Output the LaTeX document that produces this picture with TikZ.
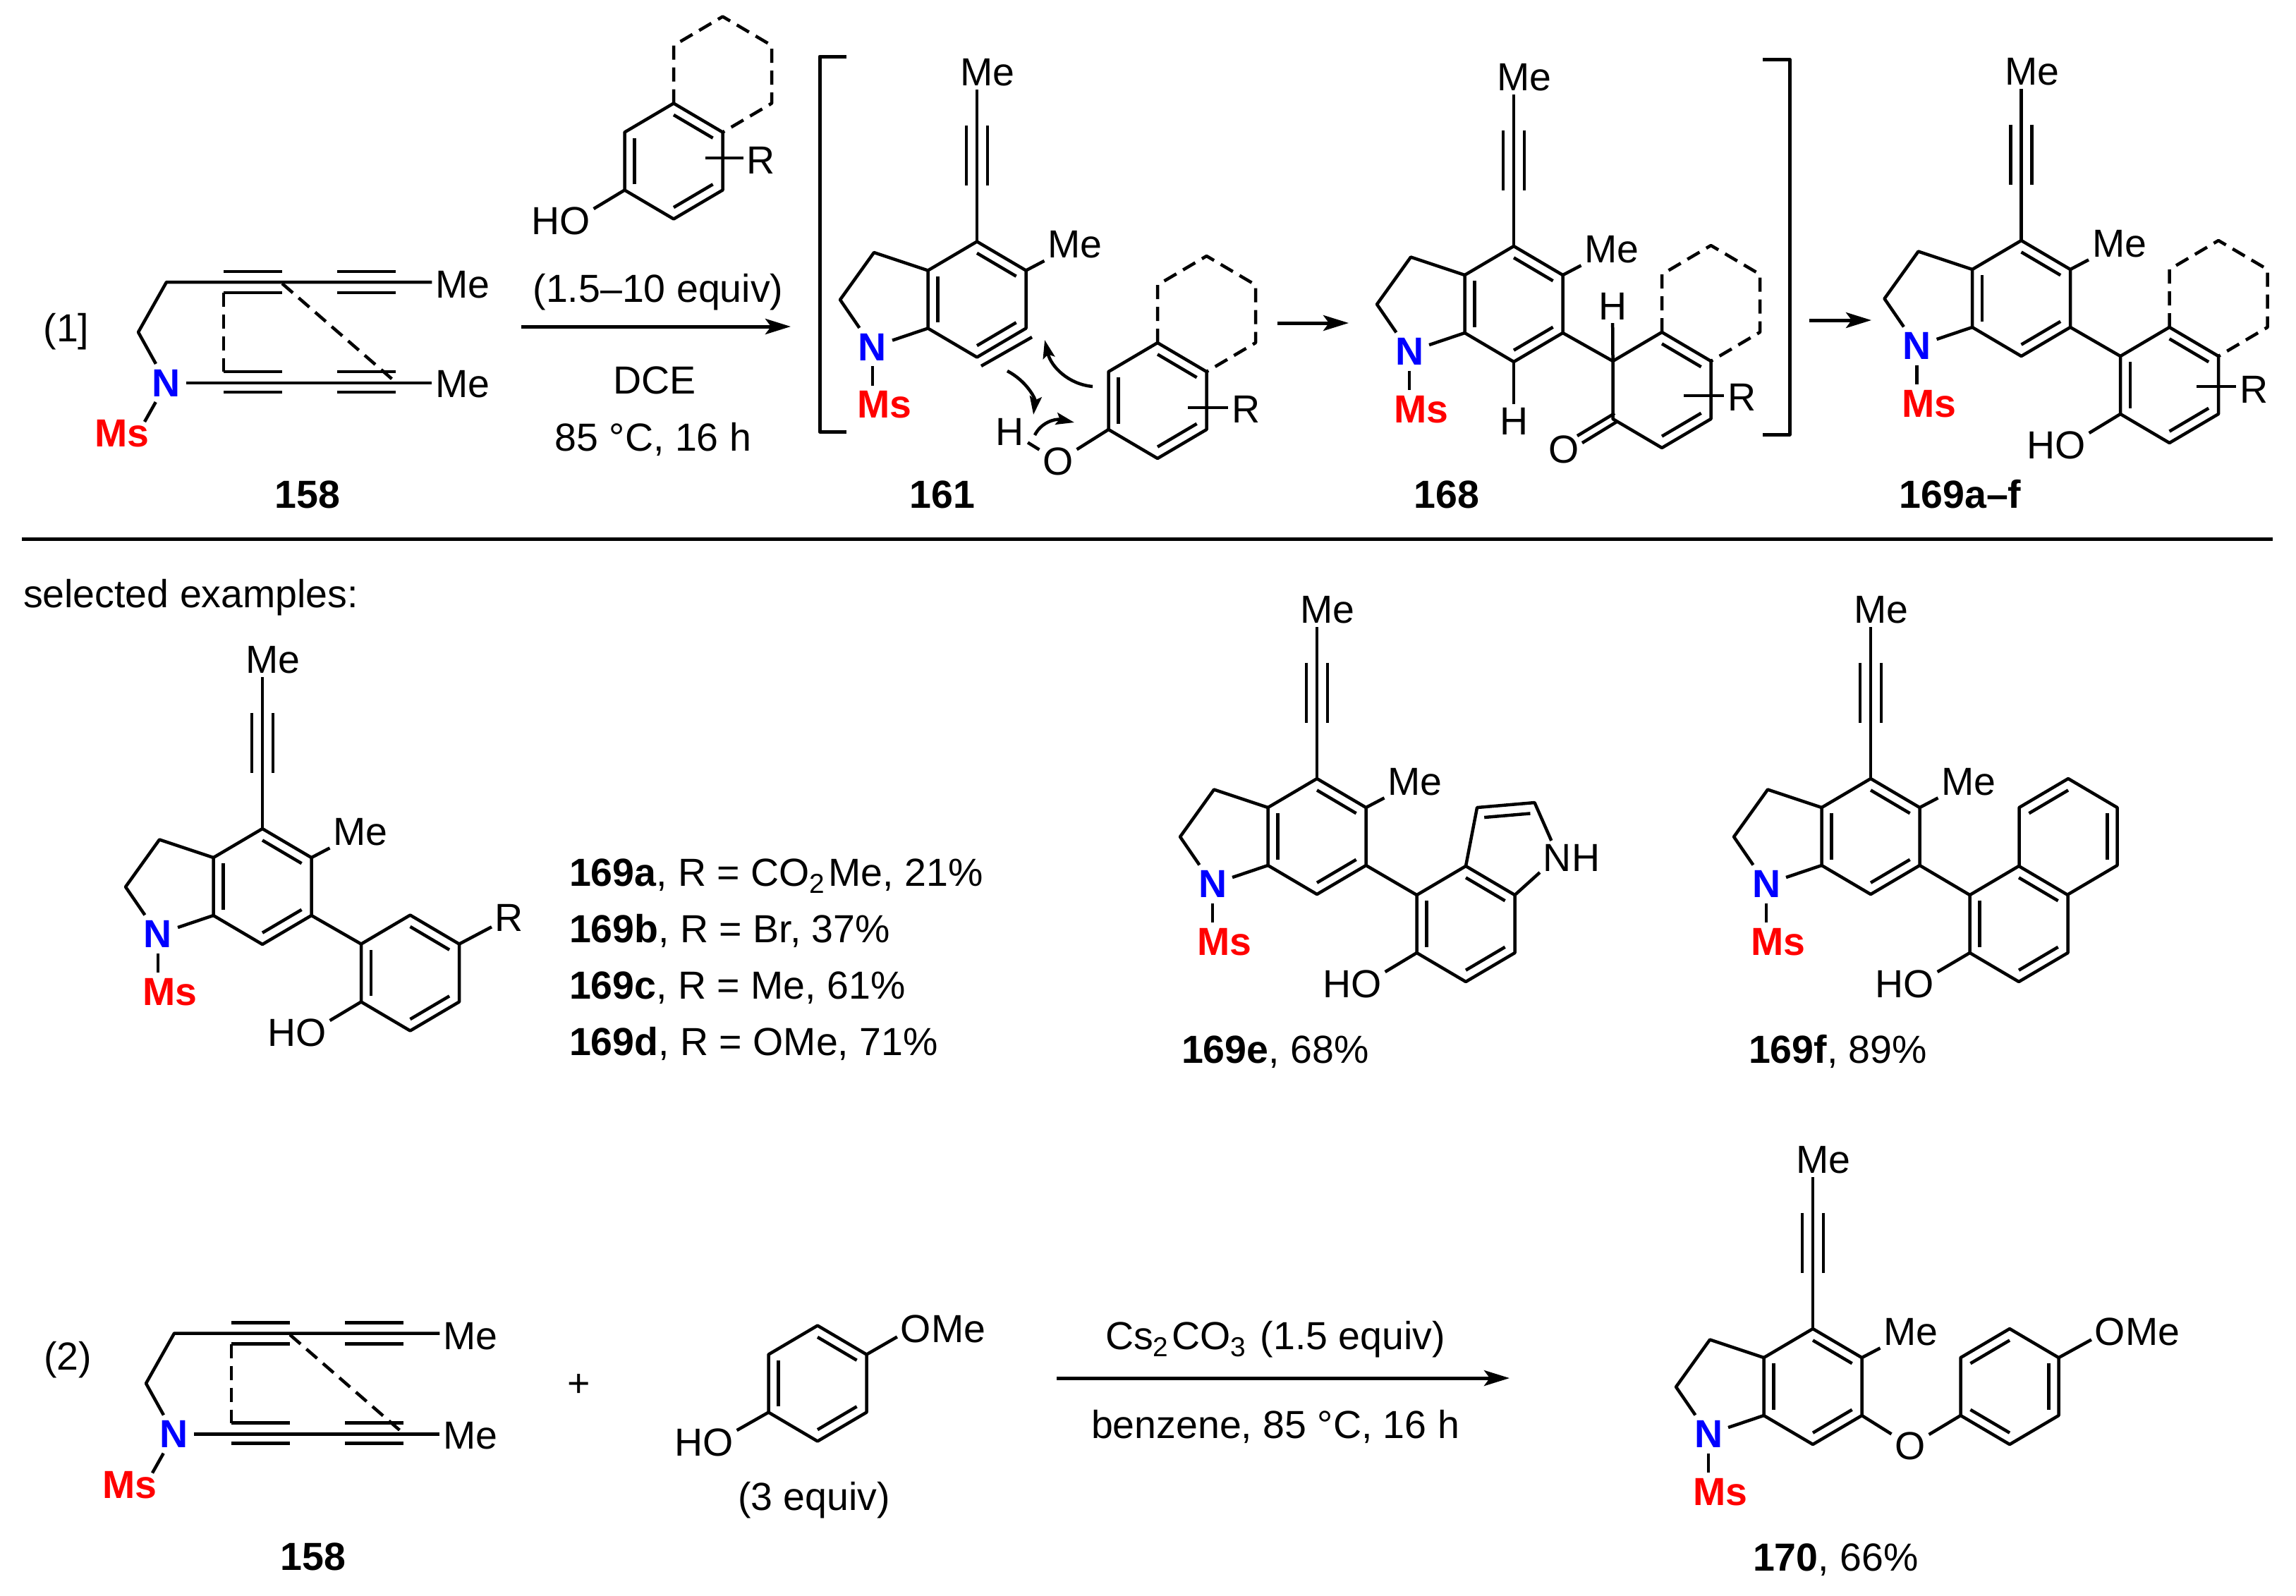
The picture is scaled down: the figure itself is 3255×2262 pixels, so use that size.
\documentclass[tikz,border=0pt]{standalone}
\usepackage{fontspec}
\setmainfont{Liberation Sans}
\usetikzlibrary{arrows.meta, calc}
\newcommand{\chemfont}{\fontsize{5.55}{6.6}\selectfont}
\tikzstyle{bond} = [line width=0.45pt, line join=round]
\tikzstyle{dashbond} = [bond, dash pattern=on 2pt off 1.1pt]
\tikzstyle{rxn} = [line width=0.5pt, -{Stealth[length=3.6pt,width=2.2pt,inset=0.8pt]}]
\tikzstyle{curl} = [line width=0.45pt, -{Stealth[length=2.6pt,width=1.7pt,inset=0.5pt]}]
\tikzstyle{atom} = [font=\chemfont, inner sep=0.5pt, outer sep=0pt]
\tikzstyle{nit} = [atom, font=\chemfont\bfseries, text=blue, inner sep=0.8pt]
\tikzstyle{ms} = [atom, font=\chemfont\bfseries, text=red, inner sep=0.8pt]
\tikzstyle{lab} = [atom, font=\chemfont\bfseries, anchor=base]
\tikzstyle{note} = [atom, anchor=base]
\tikzstyle{listing} = [atom, anchor=base west]
% six ring corners, clockwise from the top
\newcommand{\benzring}[3]{
  \path (#2,#3) coordinate (#1o) ++(0,-82) coordinate (#1a) ++(69.5,41) coordinate (#1b)
    ++(0,82) coordinate (#1c) ++(-69.5,41) coordinate (#1d) ++(-69.5,-41) coordinate (#1e)
    ++(0,-82) coordinate (#1f);
}
\newcommand{\dbl}[3]{\draw[bond] ($(#1)!.2!(#3)$) -- ($(#2)!.2!(#3)$);}
\newcommand{\phenring}[3]{
  \benzring{#1}{#2}{#3}
  \draw[bond] (#1a) -- (#1b) -- (#1c) -- (#1d) -- (#1e) -- (#1f) -- cycle;
  \dbl{#1a}{#1b}{#1o} \dbl{#1c}{#1d}{#1o} \dbl{#1e}{#1f}{#1o}
}
\newcommand{\dashring}[1]{
  \draw[dashbond] (#1a) -- ++(0,-82) -- ++(69.5,-41) -- ++(69.5,41) -- ++(0,82) -- (#1b);
}
\newcommand{\rsub}[5]{
  \coordinate (#1Rs) at (#2,#3);
  \node[atom] (#1R) at (#4,#5) {R};
  \draw[bond] (#1Rs) -- (#1Rs -| #1R.west);
}
\newcommand{\indoline}[3]{
  \begin{scope}[shift={(#2,#3)}]
    \benzring{#1}{0}{0}
    \coordinate (#1g) at (-146,-66.5);
    \coordinate (#1h) at (-194,0.5);
    \node[nit] (#1N) at (-148,67.5) {N};
    \node[ms] (#1Ms) at (-131,149.5) {Ms};
    \node[atom] (#1Me) at (15,-321.5) {Me};
    \node[atom] (#1Mex) at (139,-77.5) {Me};
    \draw[bond] (#1a) -- (#1b) -- (#1c) -- (#1d) -- (#1e) -- (#1f) -- cycle;
    \dbl{#1a}{#1b}{#1o} \dbl{#1c}{#1d}{#1o} \dbl{#1e}{#1f}{#1o}
    \draw[bond] (#1f) -- (#1g) -- (#1h) -- (#1N);
    \draw[bond] (#1N) -- (#1e);
    \draw[bond] (#1N.south) -- (#1N.south |- #1Ms.north);
    \draw[bond] (#1b) -- (#1Mex);
    \draw[bond] (#1a) -- (#1a |- #1Me.south);
    \draw[bond] (-15,-246.5) -- (-15,-161.5);
    \draw[bond] (15,-246.5) -- (15,-161.5);
  \end{scope}
}
\newcommand{\diyne}[3]{
  \begin{scope}[shift={(#2,#3)}]
    \node[nit] (#1N) at (236,543) {N};
    \node[ms] (#1Ms) at (173,615) {Ms};
    \node[atom] (#1Mea) at (656,404) {Me};
    \node[atom] (#1Meb) at (656,545) {Me};
    \coordinate (#1p) at (196,471);
    \coordinate (#1q) at (236,400);
    \coordinate (#1s) at (205,598);
    \coordinate (#1u) at (317,415);
    \coordinate (#1v) at (317,527);
    \coordinate (#1w) at (400,402);
    \coordinate (#1x) at (561,542);
    \draw[bond] (#1N) -- (#1p) -- (#1q) -- (#1q -| #1Mea.west);
    \draw[bond] (#1N) -- (#1N -| #1Meb.west);
    \draw[bond] (#1N) -- (#1s);
    \foreach \bx in {317,478} {
      \foreach \by in {385,415,527,556} {
        \draw[bond] (\bx,\by) -- ++(83,0);
      }
    }
    \draw[dashbond] (#1u) -- (#1v);
    \draw[dashbond] (#1w) -- (#1x);
  \end{scope}
}

\begin{document}
\begin{tikzpicture}[x=0.1pt, y=-0.1pt]
\useasboundingbox (0,0) rectangle (3255,2262);

% Equation 1
\node[note] (eqone) at (94,484) {(1]};
\diyne{sma}{0}{0}
\node[lab] (smalab) at (436,720) {158};

\phenring{pha}{955}{228.5}
\dashring{pha}
\node[atom] (phaHO) at (795,313) {HO};
\draw[bond] (phae) -- (phaHO.20);
\rsub{pha}{1000}{224}{1079}{227}
\node[note] (equiva) at (933,428) {(1.5--10 equiv)};
\coordinate (rxnas) at (739,463);
\coordinate (rxnae) at (1121,463);
\draw[rxn] (rxnas) -- (rxnae);
\node[note] (dce) at (928,558) {DCE};
\node[note] (conda) at (926,639) {85 °C, 16 h};

% Left bracket
\draw[bond, line width=0.5pt] (1200,80) -- (1162,80) -- (1162,612) -- (1200,612);

% Intermediate 161
\indoline{ia}{1385}{424.5}
\coordinate (arya) at (1463,478);
\coordinate (aryb) at (1391,519);
\draw[bond] (arya) -- (aryb);
\phenring{ib}{1641}{568}
\dashring{ib}
\rsub{ib}{1684}{578}{1766}{580}
\node[atom] (iaH) at (1432,612) {H};
\node[atom] (iaO) at (1500,654) {O};
\draw[bond] (iaH) -- (iaO);
\draw[bond] (ibe) -- (iaO);
\draw[curl] (1428,526) .. controls (1455,540) and (1468,565) .. (1465,588);
\draw[curl] (1549,548) .. controls (1515,545) and (1490,520) .. (1481,482);
\draw[curl] (1467,617) .. controls (1475,600) and (1495,593) .. (1523,599);
\node[lab] (ialab) at (1336,720) {161};
\coordinate (rxnbs) at (1811,458);
\coordinate (rxnbe) at (1912,458);
\draw[rxn] (rxnbs) -- (rxnbe);

% Intermediate 168
\indoline{ka}{2146}{431}
\node[atom] (kaH) at (2146,597) {H};
\draw[bond] (kad) -- (kaH);
\benzring{kb}{2356}{553}
\dashring{kb}
\draw[bond] (kac) -- (kbf);
\draw[bond] (kbf) -- (kba) -- (kbb) -- (kbc) -- (kbd) -- (kbe) -- cycle;
\dbl{kba}{kbb}{kbo}
\dbl{kbc}{kbd}{kbo}
\node[atom] (kbHt) at (2286,434) {H};
\draw[bond] (kbf) -- (kbHt);
\node[atom] (kbO) at (2217,637) {O};
\coordinate (coas) at (2289,586);
\coordinate (coae) at (2236,618);
\coordinate (cobs) at (2292,598);
\coordinate (cobe) at (2243,628);
\draw[bond] (coas) -- (coae);
\draw[bond] (cobs) -- (cobe);
\rsub{kb}{2387}{561}{2469}{563}
\node[lab] (kalab) at (2051,720) {168};

% Right bracket
\draw[bond, line width=0.5pt] (2499,84) -- (2537,84) -- (2537,616) -- (2499,616);
\coordinate (rxncs) at (2565,454);
\coordinate (rxnce) at (2653,454);
\draw[rxn] (rxncs) -- (rxnce);

% Product 169a-f
\indoline{pa}{2865.5}{423}
\phenring{pb}{3075.5}{546}
\dashring{pb}
\draw[bond] (pac) -- (pbf);
\node[atom] (pbHO) at (2915,631) {HO};
\draw[bond] (pbe) -- (pbHO.20);
\rsub{pb}{3114}{548}{3195}{552}
\node[lab] (palab) at (2779,720) {169a--f};

% Divider
\coordinate (divs) at (31,764);
\coordinate (dive) at (3222,764);
\draw[bond, line width=0.5pt] (divs) -- (dive);

% Selected examples
\node[listing] (selex) at (28,861) {selected examples:};
\indoline{qa}{372}{1257}
\phenring{qb}{581.5}{1379.5}
\draw[bond] (qac) -- (qbf);
\node[atom] (qbR) at (722,1301) {R};
\draw[bond] (qbb) -- (qbR);
\node[atom] (qbHO) at (421,1464) {HO};
\draw[bond] (qbe) -- (qbHO.20);
\node[listing] (lista) at (802,1256) {\textbf{169a}, R = CO\textsubscript{2}Me, 21\%};
\node[listing] (listb) at (802,1336) {\textbf{169b}, R = Br, 37\%};
\node[listing] (listc) at (802,1416) {\textbf{169c}, R = Me, 61\%};
\node[listing] (listd) at (802,1496) {\textbf{169d}, R = OMe, 71\%};

% 169e
\indoline{ea}{1867}{1186}
\phenring{eb}{2078}{1310}
\draw[bond] (eac) -- (ebf);
\coordinate (ep) at (2094,1145);
\coordinate (eq) at (2175.5,1138);
\coordinate (ey) at (2145,1215);
\node[atom] (ebNH) at (2228,1216) {NH};
\draw[bond] (eba) -- (ep) -- (eq) -- (ebNH.140);
\draw[bond] (ebb) -- (ebNH.205);
\dbl{ep}{eq}{ey}
\node[atom] (ebHO) at (1917,1395) {HO};
\draw[bond] (ebe) -- (ebHO.20);
\node[listing] (ealab) at (1670,1507) {\textbf{169e}, 68\%};

% 169f
\indoline{fa}{2652}{1186}
\phenring{fb}{2862}{1310}
\benzring{fc}{2932}{1186}
\draw[bond] (fac) -- (fbf);
\draw[bond] (fce) -- (fcf) -- (fca) -- (fcb) -- (fcc) -- (fcd);
\dbl{fcf}{fca}{fco}
\dbl{fcb}{fcc}{fco}
\node[atom] (fbHO) at (2700,1395) {HO};
\draw[bond] (fbe) -- (fbHO.20);
\node[listing] (falab) at (2474,1507) {\textbf{169f}, 89\%};

% Equation 2
\node[note] (eqtwo) at (96,1942) {(2)};
\diyne{smb}{11}{1490.5}
\node[lab] (smblab) at (444,2226) {158};
\node[atom] (plus) at (821,1964) {+};
\phenring{sb}{1159}{1961.5}
\node[atom] (sbOMe) at (1337,1884) {OMe};
\draw[bond] (sbb) -- (sbOMe.190);
\node[atom] (sbHO) at (998,2045) {HO};
\draw[bond] (sbe) -- (sbHO.20);
\node[note] (equivb) at (1154,2141) {(3 equiv)};
\node[note] (condb) at (1808,1913) {Cs\textsubscript{2}CO\textsubscript{3} (1.5 equiv)};
\coordinate (rxnds) at (1498,1954);
\coordinate (rxnde) at (2140,1954);
\draw[rxn] (rxnds) -- (rxnde);
\node[note] (condc) at (1808,2039) {benzene, 85 °C, 16 h};

% Product 170
\indoline{ra}{2570}{1966}
\benzring{rb}{2849}{1966}
\draw[bond] (rba) -- (rbb) -- (rbc) -- (rbd) -- (rbe) -- (rbf) -- cycle;
\dbl{rbf}{rba}{rbo}
\dbl{rbb}{rbc}{rbo}
\dbl{rbd}{rbe}{rbo}
\node[atom] (raO) at (2708,2050) {O};
\draw[bond] (rac) -- (raO);
\draw[bond] (rbe) -- (raO);
\node[atom] (rbOMe) at (3030,1888) {OMe};
\draw[bond] (rbb) -- (rbOMe.190);
\node[listing] (ralab) at (2480,2227) {\textbf{170}, 66\%};

\end{tikzpicture}
\end{document}
